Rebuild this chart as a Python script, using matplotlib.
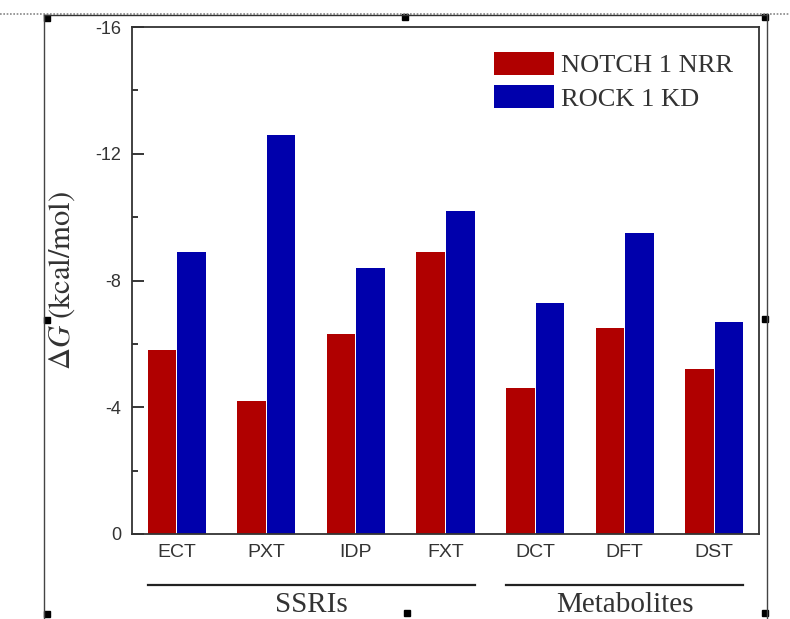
import matplotlib
matplotlib.use('Agg')
import numpy as np
import matplotlib.pyplot as plt
from matplotlib.patches import Rectangle
from matplotlib.lines import Line2D
from matplotlib.ticker import MultipleLocator

# data (binding free energy, kcal/mol)
compounds = ['ECT', 'PXT', 'IDP', 'FXT', 'DCT', 'DFT', 'DST']
notch_nrr = [-5.8, -4.2, -6.3, -8.9, -4.6, -6.5, -5.2]
rock_kd = [-8.9, -12.6, -8.4, -10.2, -7.3, -9.5, -6.7]
series_names = ['NOTCH 1 NRR', 'ROCK 1 KD']
groups = ['SSRIs', 'Metabolites']
group_sizes = [4, 3]

red = '#B00000'
blue = '#0000AC'
serif = ['Liberation Serif', 'DejaVu Serif']
sans = ['Liberation Sans', 'DejaVu Sans']
plt.rcParams['mathtext.fontset'] = 'stix'

W, H = 790, 619
fig = plt.figure(figsize=(W / 100, H / 100), dpi=100)
ax = fig.add_axes([132 / W, (H - 534) / H, 627 / W, 507 / H])

x = np.arange(1, len(compounds) + 1)
bw = 0.32
off = 0.165
ax.bar(x - off, notch_nrr, bw, color=red, label=series_names[0])
ax.bar(x + off, rock_kd, bw, color=blue, label=series_names[1])

ax.set_xlim(0.5, len(compounds) + 0.5)
ax.set_ylim(0, -16)  # inverted: more negative is higher
ax.yaxis.set_minor_locator(MultipleLocator(2))
ax.set_yticks([0, -4, -8, -12, -16])
ax.set_yticklabels(['0', '-4', '-8', '-12', '-16'], family=sans, fontsize=13, color='#333333')
ax.set_xticks(x)
ax.set_xticklabels(compounds, family=sans, fontsize=14, color='#333333')
ax.tick_params(axis='y', which='major', direction='in', length=8.5, width=1.1, pad=8)
ax.tick_params(axis='y', which='minor', direction='in', length=4.5, width=1.1)
ax.tick_params(axis='x', length=0, pad=7)
for s in ax.spines.values():
    s.set_linewidth(1.3)
    s.set_color('#333333')

ax.set_ylabel(r'$\Delta G\ \mathrm{(kcal/mol)}$', fontsize=22, color='#333333')
ax.yaxis.label.set_va('center')
ax.yaxis.set_label_coords(-(132 - 62) / 627, 0.5)

ax.legend(loc='upper left', bbox_to_anchor=(494 / W, 1 - 52 / H), bbox_transform=fig.transFigure,
          frameon=False, prop={'family': serif, 'size': 19}, handlelength=2.27, handleheight=0.95,
          handletextpad=0.27, labelspacing=0.3, borderpad=0, borderaxespad=0, labelcolor='#333333')

# group brackets under the x labels
trans = ax.get_xaxis_transform()
start = 0
for name, n in zip(groups, group_sizes):
    x0 = x[start] - off - bw / 2
    x1 = x[start + n - 1] + off + bw / 2
    ax.plot([x0, x1], [-0.1006, -0.1006], transform=trans, color='#222222', lw=1.6, clip_on=False)
    ax.text((x0 + x1) / 2, -0.115, name, transform=trans, ha='center', va='top',
            family=serif, fontsize=21, color='#333333')
    start += n

# selection frame around the graph (as in the screenshot)
fig.add_artist(Line2D([0, 1], [1 - 14 / H, 1 - 14 / H], transform=fig.transFigure,
                      color='#888888', lw=1.2, ls=(0, (1, 1))))
fig.add_artist(Line2D([44 / W, 767 / W], [1 - 15 / H, 1 - 15 / H], transform=fig.transFigure,
                      color='#333333', lw=1.0))
for xf in (44, 767):
    fig.add_artist(Line2D([xf / W, xf / W], [0, 1 - 15 / H], transform=fig.transFigure,
                          color='#444444', lw=1.0))
for hx, hy in [(47, 18), (405, 17), (765, 17), (47, 320), (765, 319), (47, 614), (407, 613), (765, 613)]:
    fig.add_artist(Rectangle(((hx - 3) / W, 1 - (hy + 3) / H), 6 / W, 6 / H,
                             transform=fig.transFigure, color='black'))

fig.savefig('out.png', dpi=100)
